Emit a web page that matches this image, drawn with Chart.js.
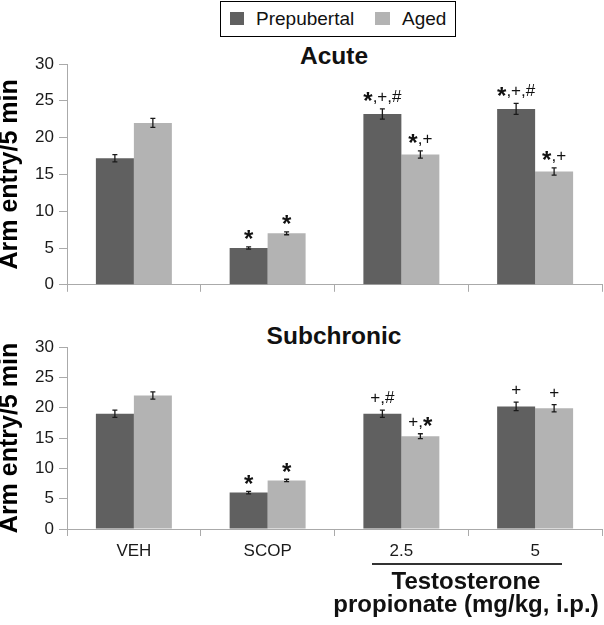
<!DOCTYPE html>
<html>
<head>
<meta charset="utf-8">
<script src="https://cdn.jsdelivr.net/npm/chart.js@4/dist/chart.umd.min.js"></script>
<style>
  html, body { margin: 0; padding: 0; background: #fff; }
  body { width: 604px; height: 625px; position: relative; overflow: hidden;
         font-family: "Liberation Sans", Arial, sans-serif; color: #111; }
  canvas { position: absolute; left: 0; }
  .abs { position: absolute; white-space: nowrap; line-height: 1; }
  .title { font-weight: bold; font-size: 24.5px; text-align: center; width: 300px; }
</style>
</head>
<body>
<div class="abs" style="left:220px;top:1px;width:236px;height:36px;border:1.5px solid #000;box-sizing:border-box;"></div>
<div class="abs" style="left:230px;top:12px;width:14px;height:13px;background:#606060;"></div>
<div class="abs" style="left:256px;top:9px;font-size:19px;">Prepubertal</div>
<div class="abs" style="left:375px;top:12px;width:15px;height:13px;background:#b3b3b3;"></div>
<div class="abs" style="left:402px;top:9px;font-size:19px;">Aged</div>

<div class="abs title" style="left:184px;top:44px;">Acute</div>
<div class="abs title" style="left:184px;top:324px;">Subchronic</div>

<canvas id="c1" width="604" height="260" style="top:40px"></canvas>
<canvas id="c2" width="604" height="280" style="top:300px"></canvas>

<div class="abs" style="left:372px;top:563px;width:190px;height:1.5px;background:#333;"></div>
<div class="abs title" style="left:316px;top:569px;font-size:24px;">Testosterone</div>
<div class="abs title" style="left:316px;top:592px;font-size:24px;">propionate (mg/kg, i.p.)</div>

<script>
// ---- data ----
const categories = ['VEH', 'SCOP', '2.5', '5'];
const seriesNames = ['Prepubertal', 'Aged'];
const yTickValues = [0, 5, 10, 15, 20, 25, 30];

const acutePre      = [17.2, 5.0, 23.2, 23.9];
const acutePreErr   = [0.5, 0.15, 0.7, 0.75];
const acutePreNotes = ['', '*', '*,+,#', '*,+,#'];
const acuteAged      = [22.0, 7.0, 17.7, 15.4];
const acuteAgedErr   = [0.6, 0.2, 0.5, 0.5];
const acuteAgedNotes = ['', '*', '*,+', '*,+'];

const subPre      = [19.0, 6.0, 19.0, 20.2];
const subPreErr   = [0.6, 0.2, 0.6, 0.7];
const subPreNotes = ['', '*', '+,#', '+'];
const subAged      = [22.0, 8.0, 15.3, 19.9];
const subAgedErr   = [0.6, 0.2, 0.4, 0.6];
const subAgedNotes = ['', '*', '+,*', '+'];

const FONT = '"Liberation Sans", Arial, sans-serif';

function drawNote(ctx, txt, cx, cy) {
  if (!txt) return;
  const parts = txt.split('').map(c => ({
    c,
    font: c === '*' ? 'bold 24px ' + FONT : '17px ' + FONT,
    dy: c === '*' ? 13.5 : 6
  }));
  let w = 0;
  parts.forEach(p => { ctx.font = p.font; p.w = ctx.measureText(p.c).width; w += p.w; });
  let x = cx - w / 2;
  ctx.fillStyle = '#111';
  ctx.textBaseline = 'alphabetic';
  ctx.textAlign = 'left';
  parts.forEach(p => { ctx.font = p.font; ctx.fillText(p.c, x, cy + p.dy); x += p.w; });
}

const errPlugin = {
  id: 'errNotes',
  afterDatasetsDraw(chart) {
    const ctx = chart.ctx, ys = chart.scales.y;
    chart.data.datasets.forEach((ds, di) => {
      const meta = chart.getDatasetMeta(di);
      meta.data.forEach((bar, i) => {
        const v = ds.data[i], e = ds.errors[i];
        const x = bar.x;
        const yt = ys.getPixelForValue(v + e), yb = ys.getPixelForValue(v - e);
        ctx.save();
        ctx.strokeStyle = '#1a1a1a';
        ctx.lineWidth = 1.3;
        ctx.beginPath();
        ctx.moveTo(x, yt); ctx.lineTo(x, yb);
        ctx.moveTo(x - 2.5, yt); ctx.lineTo(x + 2.5, yt);
        ctx.moveTo(x - 2.5, yb); ctx.lineTo(x + 2.5, yb);
        ctx.stroke();
        drawNote(ctx, ds.notes[i], x, yt - 13);
        ctx.restore();
      });
    });
  }
};

function makeChart(id, pre, preErr, preNotes, aged, agedErr, agedNotes, padTop, xHeight, showX) {
  return new Chart(document.getElementById(id), {
    type: 'bar',
    data: {
      labels: categories,
      datasets: [
        { label: seriesNames[0], data: pre, errors: preErr, notes: preNotes,
          backgroundColor: '#606060', borderWidth: 0, categoryPercentage: 0.568, barPercentage: 1 },
        { label: seriesNames[1], data: aged, errors: agedErr, notes: agedNotes,
          backgroundColor: '#b3b3b3', borderWidth: 0, categoryPercentage: 0.568, barPercentage: 1 }
      ]
    },
    options: {
      responsive: false,
      animation: false,
      devicePixelRatio: 1,
      layout: { padding: { top: padTop, right: 2, left: 0, bottom: 0 } },
      plugins: { legend: { display: false }, tooltip: { enabled: false } },
      scales: {
        x: {
          grid: { display: true, drawOnChartArea: false, drawTicks: true, tickLength: 7, color: '#aaaaaa', offset: true },
          border: { display: true, color: '#aaaaaa' },
          ticks: { display: showX, color: '#1a1a1a', font: { family: FONT, size: 17 }, padding: 5 },
          afterFit(s) { s.height = xHeight; }
        },
        y: {
          min: 0, max: 30,
          afterBuildTicks(s) { s.ticks = yTickValues.map(v => ({ value: v })); },
          grid: { display: true, drawOnChartArea: false, drawTicks: true, tickLength: 8, color: '#aaaaaa' },
          border: { display: true, color: '#aaaaaa' },
          ticks: { color: '#1a1a1a', font: { family: FONT, size: 17 }, padding: 5 },
          title: { display: true, text: 'Arm entry/5 min', color: '#000',
                   font: { family: FONT, size: 25, weight: 'bold', lineHeight: 0.8 }, padding: 0 },
          afterFit(s) { s.width = 67; }
        }
      }
    },
    plugins: [errPlugin]
  });
}

makeChart('c1', acutePre, acutePreErr, acutePreNotes, acuteAged, acuteAgedErr, acuteAgedNotes, 24, 11, false);
makeChart('c2', subPre, subPreErr, subPreNotes, subAged, subAgedErr, subAgedNotes, 47, 51, true);
</script>
</body>
</html>
